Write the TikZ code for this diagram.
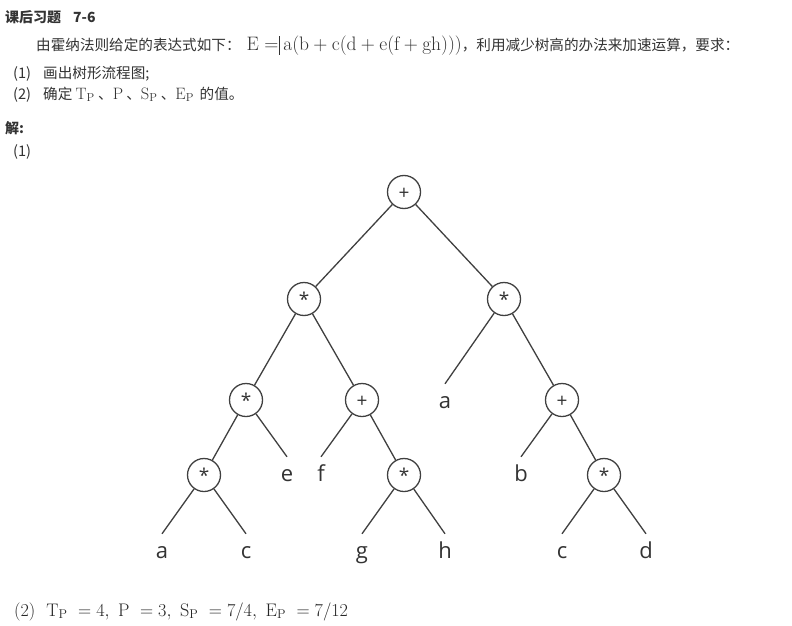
\RequirePackage{fix-cm}
\documentclass[tikz,border=0pt]{standalone}
\usepackage{fontspec}
\newfontfamily\cjk{Noto Sans CJK SC}
\newfontfamily\osans{Open Sans}
\definecolor{linecol}{HTML}{404040}
\definecolor{txtcol}{HTML}{333333}
\begin{document}
\begin{tikzpicture}[x=1pt,y=-1pt,
  op/.style={circle, draw=linecol, line width=1.3pt, minimum size=33pt, inner sep=0pt,
    font=\osans\fontsize{19}{19}\selectfont, text=txtcol, text height=15pt, text depth=0pt},
  leaf/.style={inner sep=0pt, anchor=base, text height=24pt, text depth=0pt,
    font=\osans\fontsize{22}{22}\selectfont, text=txtcol},
  edge/.style={draw=linecol, line width=1.3pt},
  txt/.style={anchor=base west, inner sep=0pt, text=txtcol},
  cjktxt/.style={txt, font=\cjk\fontsize{14.6}{15}\selectfont}
]
\useasboundingbox[fill=white] (0,0) rectangle (792,626);

% header text
\node[txt, font=\cjk\bfseries\fontsize{14}{14}\selectfont] (title) at (5,23) {课后习题\hspace{12pt}7-6};
\node[cjktxt] (q) at (36,51) {由霍纳法则给定的表达式如下：\hspace{6pt}{\fontsize{19.5}{19.5}\selectfont$\mathrm{E} =\mkern-4mu\rule[-4pt]{0.7pt}{19pt}\mkern3mu \mathrm{a}\bigl(\mathrm{b}+\mathrm{c}\bigl(\mathrm{d}+\mathrm{e}\bigl(\mathrm{f}+\mathrm{gh}\bigr)\bigr)\bigr)$}，利用减少树高的办法来加速运算，要求：};
\node[cjktxt] (q1n) at (13,78) {(1)};
\node[cjktxt] (q1) at (43,78) {画出树形流程图;};
\node[cjktxt] (q2n) at (13,99) {(2)};
\node[cjktxt] (q2) at (43,99) {确定 {\fontsize{16.5}{16.5}\selectfont$\mathrm{T_P}$} 、{\fontsize{16.5}{16.5}\selectfont$\mathrm{P}$} 、{\fontsize{16.5}{16.5}\selectfont$\mathrm{S_P}$} 、{\fontsize{16.5}{16.5}\selectfont$\mathrm{E_P}$} \,的值。};
\node[txt, font=\cjk\bfseries\fontsize{14}{14}\selectfont] (ans) at (5,133) {解:};
\node[cjktxt] (a1) at (13,156) {(1)};

% tree
\node[op] (r) at (404,192) {+};
\node[op] (l1) at (304,299) {*};
\node[op] (r1) at (504,299) {*};
\node[op] (l2a) at (246,400) {*};
\node[op] (l2b) at (362,400) {+};
\node[leaf] (la) at (445,408) {a};
\node[op] (r2) at (562,400) {+};
\node[op] (l3a) at (204,475) {*};
\node[leaf] (le) at (287,481) {e};
\node[leaf] (lf) at (321,481) {f};
\node[op] (l3b) at (404,475) {*};
\node[leaf] (lb) at (521,481) {b};
\node[op] (l3c) at (604,475) {*};
\node[leaf] (la2) at (162,558) {a};
\node[leaf] (lc) at (246,558) {c};
\node[leaf] (lg) at (362,558) {g};
\node[leaf] (lh) at (445,558) {h};
\node[leaf] (lc2) at (562,558) {c};
\node[leaf] (ld) at (646,558) {d};

\draw[edge] (r) -- (l1);
\draw[edge] (r) -- (r1);
\draw[edge] (l1) -- (l2a);
\draw[edge] (l1) -- (l2b);
\draw[edge] (r1) -- (la.north);
\draw[edge] (r1) -- (r2);
\draw[edge] (l2a) -- (l3a);
\draw[edge] (l2a) -- (le.north);
\draw[edge] (l2b) -- (lf.north);
\draw[edge] (l2b) -- (l3b);
\draw[edge] (r2) -- (lb.north);
\draw[edge] (r2) -- (l3c);
\draw[edge] (l3a) -- (la2.north);
\draw[edge] (l3a) -- (lc.north);
\draw[edge] (l3b) -- (lg.north);
\draw[edge] (l3b) -- (lh.north);
\draw[edge] (l3c) -- (lc2.north);
\draw[edge] (l3c) -- (ld.north);

% answer
\node[txt, font=\fontsize{18.2}{18.2}\selectfont, text=black!85] (a2) at (14,616) {(2)\ \ $\mathrm{T_P}\ =4,\ \mathrm{P}\ =3,\ \mathrm{S_P}\ =7/4,\ \mathrm{E_P}\ =7/12$};
\end{tikzpicture}
\end{document}
